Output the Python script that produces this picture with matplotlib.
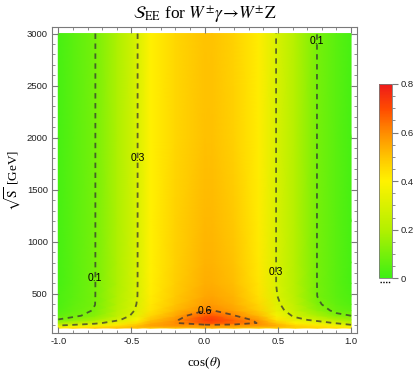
import matplotlib
matplotlib.use("Agg")
import matplotlib.pyplot as plt
import numpy as np
from matplotlib.colors import LinearSegmentedColormap
from matplotlib.lines import Line2D
from matplotlib.ticker import MultipleLocator

# grid: columns = cos(theta), rows = sqrt(S) in GeV
COS_THETA = [-1.0, -0.9, -0.75, -0.6, -0.46, -0.37, -0.2, 0.0, 0.05, 0.2, 0.37, 0.49, 0.62, 0.77, 0.9, 1.0]
SQRT_S = [172, 185, 200, 220, 250, 290, 340, 400, 480, 600, 800, 1200, 2000, 3000]
S_EE = [
    [0.42, 0.45, 0.48, 0.50, 0.50, 0.48, 0.49, 0.52, 0.52, 0.50, 0.47, 0.47, 0.46, 0.45, 0.44, 0.42],
    [0.36, 0.40, 0.44, 0.48, 0.52, 0.54, 0.56, 0.57, 0.57, 0.56, 0.54, 0.52, 0.48, 0.45, 0.42, 0.38],
    [0.28, 0.31, 0.36, 0.43, 0.50, 0.56, 0.59, 0.58, 0.585, 0.58, 0.58, 0.54, 0.46, 0.42, 0.36, 0.31],
    [0.18, 0.22, 0.27, 0.36, 0.45, 0.54, 0.595, 0.68, 0.69, 0.65, 0.595, 0.50, 0.40, 0.35, 0.29, 0.24],
    [0.105, 0.13, 0.18, 0.28, 0.39, 0.50, 0.585, 0.72, 0.73, 0.66, 0.575, 0.44, 0.335, 0.27, 0.20, 0.16],
    [0.06, 0.085, 0.125, 0.23, 0.34, 0.46, 0.55, 0.68, 0.685, 0.605, 0.52, 0.38, 0.28, 0.19, 0.12, 0.10],
    [0.04, 0.07, 0.105, 0.21, 0.315, 0.43, 0.52, 0.598, 0.603, 0.56, 0.48, 0.34, 0.245, 0.14, 0.08, 0.06],
    [0.03, 0.06, 0.099, 0.20, 0.305, 0.42, 0.50, 0.57, 0.575, 0.54, 0.46, 0.32, 0.225, 0.11, 0.065, 0.04],
    [0.03, 0.055, 0.098, 0.195, 0.299, 0.41, 0.49, 0.55, 0.555, 0.525, 0.44, 0.305, 0.21, 0.099, 0.055, 0.03],
    [0.02, 0.05, 0.098, 0.19, 0.298, 0.405, 0.48, 0.54, 0.54, 0.51, 0.43, 0.298, 0.205, 0.098, 0.05, 0.02],
    [0.02, 0.05, 0.098, 0.19, 0.298, 0.40, 0.475, 0.53, 0.53, 0.50, 0.42, 0.298, 0.20, 0.098, 0.05, 0.02],
    [0.02, 0.05, 0.098, 0.19, 0.298, 0.40, 0.47, 0.52, 0.52, 0.49, 0.415, 0.298, 0.20, 0.098, 0.05, 0.02],
    [0.02, 0.05, 0.098, 0.19, 0.298, 0.40, 0.46, 0.505, 0.505, 0.475, 0.41, 0.298, 0.20, 0.098, 0.05, 0.02],
    [0.02, 0.05, 0.098, 0.19, 0.298, 0.40, 0.46, 0.50, 0.50, 0.47, 0.41, 0.298, 0.20, 0.098, 0.05, 0.02],
]
CONTOUR_LEVELS = [0.1, 0.3, 0.6]
LABEL_SPOTS = [(-0.75, 650), (0.77, 2930), (-0.457, 1800), (0.49, 710), (0.0, 340)]
CBAR_TICKS = [0, 0.2, 0.4, 0.6, 0.8]
CBAR_LABELS = ["0", "0.2", "0.4", "0.6", "0.8"]

plt.rcParams["font.family"] = ["Liberation Sans", "DejaVu Sans"]
plt.rcParams["mathtext.fontset"] = "stix"

FRAME = "#7a7a7a"
cmap = LinearSegmentedColormap.from_list("see", [
    (0.0, "#3cf014"), (0.25, "#b4f000"), (0.5, "#fff200"), (0.5625, "#ffdc00"),
    (0.625, "#ffc400"), (0.75, "#ff8c00"), (0.875, "#ff4a00"), (1.0, "#ee1a1a")])

fig = plt.figure(figsize=(4.2, 3.77), dpi=100)
ax = fig.add_axes([0.1238, 0.1167, 0.726, 0.8117])

X, Y = np.meshgrid(COS_THETA, SQRT_S)
Z = np.array(S_EE)
mesh = ax.pcolormesh(X, Y, Z, shading="gouraud", cmap=cmap, vmin=0, vmax=0.8)
cs = ax.contour(X, Y, Z, levels=CONTOUR_LEVELS, colors=[(0.2, 0.2, 0.2, 0.75)],
                linewidths=1.3, linestyles=[(0, (3, 2.5))])
labels = ax.clabel(cs, fmt="%.1f", inline=False, manual=LABEL_SPOTS, fontsize=7.5,
                   colors="black")
for t in labels:
    t.set_rotation(0)

ax.set_xlim(-1.043, 1.04)
ax.set_ylim(124, 3063)
ax.xaxis.set_major_locator(MultipleLocator(0.5))
ax.xaxis.set_minor_locator(MultipleLocator(0.1))
ax.yaxis.set_major_locator(MultipleLocator(500))
ax.yaxis.set_minor_locator(MultipleLocator(100))
ax.xaxis.set_major_formatter(lambda v, p: f"{v:.1f}")
ax.tick_params(which="both", direction="in", top=True, right=True,
               color=FRAME, labelsize=6.8, labelcolor="#222222", pad=3)
ax.tick_params(which="major", length=4)
ax.tick_params(which="minor", length=2.2)
for s in ax.spines.values():
    s.set_color(FRAME)

ax.set_title(r"$\mathcal{S}_{\mathrm{EE}}$ for $W^{\pm}\gamma\!\rightarrow\! W^{\pm}\mathrm{Z}$",
             fontsize=12.5, family="Liberation Serif", pad=6)
ax.set_xlabel(r"cos($\theta$)", fontsize=9.5, family="Liberation Serif", labelpad=7)
ax.set_ylabel(r"$\sqrt{\mathrm{S}}$ [GeV]", fontsize=9.5, family="Liberation Serif", labelpad=3)

cax = fig.add_axes([0.9024, 0.2618, 0.031, 0.5154])
cb = fig.colorbar(mesh, cax=cax)
cb.set_ticks(CBAR_TICKS, labels=CBAR_LABELS)
cax.yaxis.set_minor_locator(MultipleLocator(0.05))
cax.tick_params(which="both", color=FRAME, labelsize=6.8, labelcolor="#222222", pad=2)
cax.tick_params(which="major", length=4)
cax.tick_params(which="minor", length=2)
cb.outline.set_edgecolor(FRAME)
cb.outline.set_linewidth(0.6)
fig.add_artist(Line2D([0.905, 0.931], [0.253, 0.253], color="black", lw=1.0,
                      linestyle=(0, (1, 1))))

fig.savefig("out.png", dpi=100, facecolor="white")
